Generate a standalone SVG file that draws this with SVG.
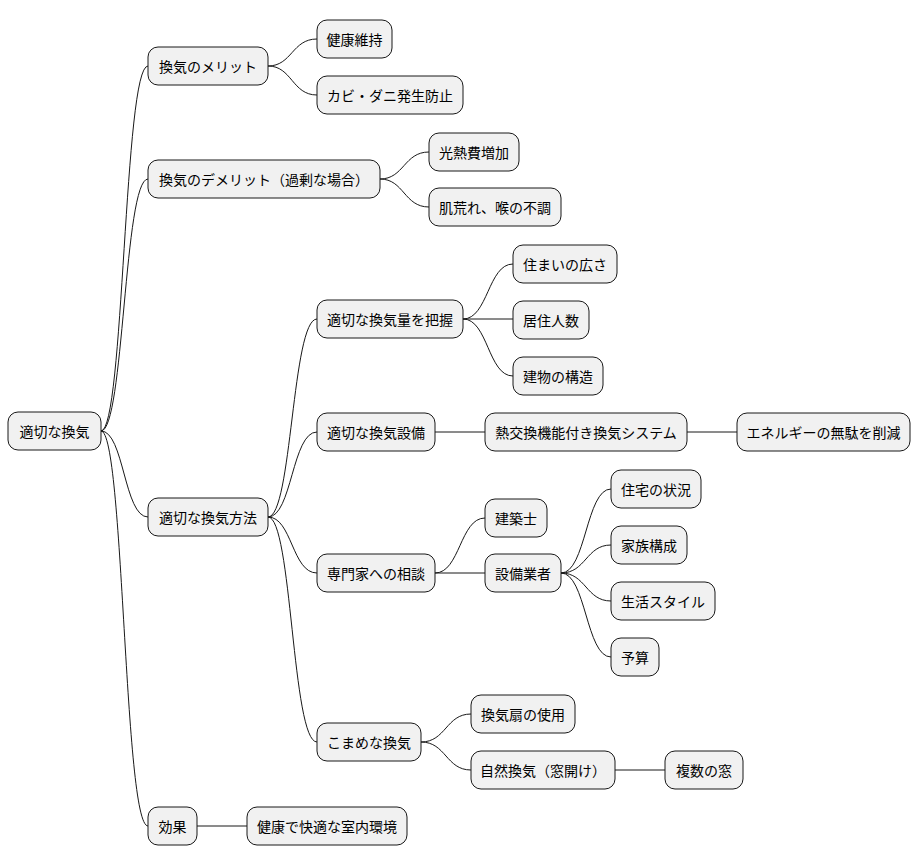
<svg xmlns="http://www.w3.org/2000/svg" width="922" height="865" viewBox="0 0 922 865">
<style>
.n rect{fill:#F1F1F1;stroke:#181818;stroke-width:1}
.n text{font-family:"Noto Sans CJK JP","Noto Sans",sans-serif;font-size:14px;fill:#000;dominant-baseline:central;text-anchor:middle}
#links path{fill:none;stroke:#181818;stroke-width:1}
</style>
<rect width="922" height="865" fill="#fff"/>
<g id="links">
<path d="M101,431 C124,431 124,66 148,66"/>
<path d="M101,431 C124,431 124,179 148,179"/>
<path d="M101,431 C124,431 124,517 148,517"/>
<path d="M101,431 C124,431 124,826 148,826"/>
<path d="M268,66 C292,66 292,39 317,39"/>
<path d="M268,66 C292,66 292,95 317,95"/>
<path d="M380,179 C404,179 404,152 429,152"/>
<path d="M380,179 C404,179 404,207 429,207"/>
<path d="M268,517 C292,517 292,319 317,319"/>
<path d="M268,517 C292,517 292,432 317,432"/>
<path d="M268,517 C292,517 292,573 317,573"/>
<path d="M268,517 C292,517 292,742 317,742"/>
<path d="M463,319 C488,319 488,264 513,264"/>
<path d="M463,319 L513,319"/>
<path d="M463,319 C488,319 488,376 513,376"/>
<path d="M435,432 L485,432"/>
<path d="M687,432 L737,432"/>
<path d="M435,573 C460,573 460,518 485,518"/>
<path d="M435,573 L485,573"/>
<path d="M561,573 C586,573 586,489 611,489"/>
<path d="M561,573 C586,573 586,545 611,545"/>
<path d="M561,573 C586,573 586,601 611,601"/>
<path d="M561,573 C586,573 586,657 611,657"/>
<path d="M421,742 C446,742 446,714 471,714"/>
<path d="M421,742 C446,742 446,770 471,770"/>
<path d="M615,770 L665,770"/>
<path d="M197,826 L247,826"/>
</g>
<g id="root" class="n"><rect x="8" y="412" width="93" height="38" rx="10"/><text x="54.5" y="431">適切な換気</text></g>
<g id="merit" class="n"><rect x="148" y="47" width="120" height="38" rx="10"/><text x="208" y="66">換気のメリット</text></g>
<g id="m1" class="n"><rect x="317" y="20" width="75" height="38" rx="10"/><text x="354.5" y="39">健康維持</text></g>
<g id="m2" class="n"><rect x="317" y="76" width="146" height="38" rx="10"/><text x="390" y="95">カビ・ダニ発生防止</text></g>
<g id="demerit" class="n"><rect x="148" y="160" width="232" height="38" rx="10"/><text x="264" y="179">換気のデメリット（過剰な場合）</text></g>
<g id="d1" class="n"><rect x="429" y="133" width="90" height="38" rx="10"/><text x="474" y="152">光熱費増加</text></g>
<g id="d2" class="n"><rect x="429" y="188" width="132" height="38" rx="10"/><text x="495" y="207">肌荒れ、喉の不調</text></g>
<g id="method" class="n"><rect x="148" y="498" width="120" height="38" rx="10"/><text x="208" y="517">適切な換気方法</text></g>
<g id="amount" class="n"><rect x="317" y="300" width="146" height="38" rx="10"/><text x="390" y="319">適切な換気量を把握</text></g>
<g id="a1" class="n"><rect x="513" y="245" width="104" height="38" rx="10"/><text x="565" y="264">住まいの広さ</text></g>
<g id="a2" class="n"><rect x="513" y="301" width="76" height="38" rx="10"/><text x="551" y="320">居住人数</text></g>
<g id="a3" class="n"><rect x="513" y="357" width="90" height="38" rx="10"/><text x="558" y="376">建物の構造</text></g>
<g id="equip" class="n"><rect x="317" y="413" width="118" height="38" rx="10"/><text x="376" y="432">適切な換気設備</text></g>
<g id="e1" class="n"><rect x="485" y="413" width="202" height="38" rx="10"/><text x="586" y="432">熱交換機能付き換気システム</text></g>
<g id="e2" class="n"><rect x="737" y="413" width="173" height="38" rx="10"/><text x="823.5" y="432">エネルギーの無駄を削減</text></g>
<g id="expert" class="n"><rect x="317" y="554" width="118" height="38" rx="10"/><text x="376" y="573">専門家への相談</text></g>
<g id="x1" class="n"><rect x="485" y="499" width="62" height="38" rx="10"/><text x="516" y="518">建築士</text></g>
<g id="x2" class="n"><rect x="485" y="554" width="76" height="38" rx="10"/><text x="523" y="573">設備業者</text></g>
<g id="x21" class="n"><rect x="611" y="470" width="90" height="38" rx="10"/><text x="656" y="489">住宅の状況</text></g>
<g id="x22" class="n"><rect x="611" y="526" width="76" height="38" rx="10"/><text x="649" y="545">家族構成</text></g>
<g id="x23" class="n"><rect x="611" y="582" width="104" height="38" rx="10"/><text x="663" y="601">生活スタイル</text></g>
<g id="x24" class="n"><rect x="611" y="638" width="48" height="38" rx="10"/><text x="635" y="657">予算</text></g>
<g id="often" class="n"><rect x="317" y="723" width="104" height="38" rx="10"/><text x="369" y="742">こまめな換気</text></g>
<g id="o1" class="n"><rect x="471" y="695" width="104" height="38" rx="10"/><text x="523" y="714">換気扇の使用</text></g>
<g id="o2" class="n"><rect x="471" y="751" width="144" height="38" rx="10"/><text x="543" y="770">自然換気（窓開け）</text></g>
<g id="o21" class="n"><rect x="665" y="751" width="78" height="38" rx="10"/><text x="704" y="770">複数の窓</text></g>
<g id="effect" class="n"><rect x="148" y="807" width="49" height="38" rx="10"/><text x="172.5" y="826">効果</text></g>
<g id="ef1" class="n"><rect x="247" y="807" width="160" height="38" rx="10"/><text x="327" y="826">健康で快適な室内環境</text></g>
</svg>
